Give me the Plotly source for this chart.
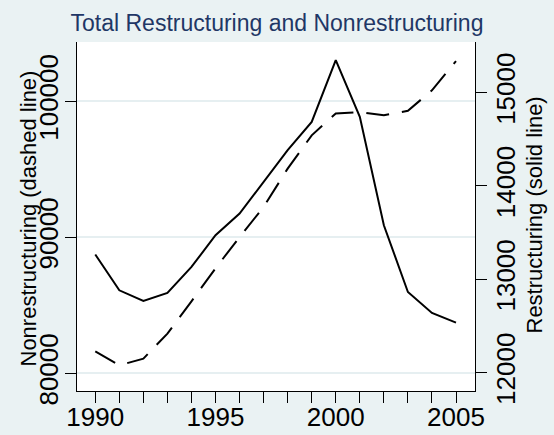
import plotly.graph_objects as go

years = list(range(1990, 2006))
nonrestructuring = [81620, 80590, 81080, 82920, 85290, 87720, 90020, 92230,
                    95050, 97500, 99100, 99210, 98970, 99300, 100810, 102960]
restructuring = [13265, 12882, 12767, 12853, 13132, 13472, 13704, 14040,
                 14383, 14686, 15347, 14740, 13579, 12864, 12639, 12536]

x_ticks = [1990, 1995, 2000, 2005]
left_ticks = [80000, 90000, 100000]
right_ticks = [12000, 13000, 14000, 15000]

title_text = "Total Restructuring and Nonrestructuring"
left_title = "Nonrestructuring (dashed line)"
right_title = "Restructuring (solid line)"

FONT = "Liberation Sans, Arial, sans-serif"
BG = "#EAF2F3"

fig = go.Figure()
fig.add_trace(go.Scatter(x=years, y=nonrestructuring, mode="lines",
                         line=dict(color="black", width=2, dash="23px,13px"),
                         yaxis="y", showlegend=False))
fig.add_trace(go.Scatter(x=years, y=restructuring, mode="lines",
                         line=dict(color="black", width=2),
                         yaxis="y2", showlegend=False))

fig.update_layout(
    width=554, height=435,
    margin=dict(l=77, r=79, t=42, b=44),
    paper_bgcolor=BG, plot_bgcolor="white",
    font=dict(family=FONT, color="black"),
    title=dict(text=title_text, x=0.5, xanchor="center", y=1 - 23 / 435,
               yanchor="middle", yref="container", automargin=False,
               font=dict(size=23, color="#1F3766", family=FONT)),
    xaxis=dict(range=[1989.24, 2005.79], tickvals=x_ticks,
               ticktext=[str(v) for v in x_ticks], automargin=False,
               ticks="outside", ticklen=11, tickwidth=1, tickcolor="black",
               ticklabelstandoff=-8,
               minor=dict(dtick=1, tick0=1990, ticks="outside", ticklen=11,
                          tickwidth=1, tickcolor="black", showgrid=False),
               showline=True, linecolor="black", linewidth=1,
               showgrid=False, zeroline=False,
               tickfont=dict(size=26)),
    yaxis=dict(range=[78700, 104360], tickvals=left_ticks,
               ticktext=[str(v) for v in left_ticks], tickangle=-90,
               automargin=False,
               ticks="outside", ticklen=11, tickwidth=1, tickcolor="black",
               ticklabelstandoff=-3,
               showline=True, linecolor="black", linewidth=1,
               showgrid=True, gridcolor="#E6EFF1", gridwidth=2,
               zeroline=False, tickfont=dict(size=26)),
    yaxis2=dict(range=[11803, 15542], tickvals=right_ticks,
                ticktext=[str(v) for v in right_ticks], tickangle=-90,
                overlaying="y", side="right", automargin=False,
                ticks="outside", ticklen=11, tickwidth=1, tickcolor="black",
                ticklabelstandoff=-3,
                showline=True, linecolor="black", linewidth=1,
                showgrid=False, zeroline=False, tickfont=dict(size=26)),
    annotations=[
        dict(text=left_title, textangle=-90, xref="paper", yref="paper",
             x=(27.5 - 77) / 398, y=(391 - 219) / 349,
             xanchor="center", yanchor="middle", showarrow=False,
             font=dict(size=22, color="black", family=FONT)),
        dict(text=right_title, textangle=-90, xref="paper", yref="paper",
             x=(533.5 - 77) / 398, y=(391 - 215) / 349,
             xanchor="center", yanchor="middle", showarrow=False,
             font=dict(size=22, color="black", family=FONT)),
    ],
)

fig.write_html("out.html")
